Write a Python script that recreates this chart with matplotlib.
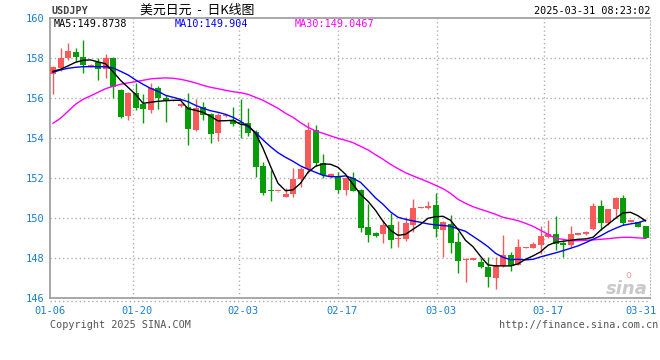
import matplotlib
matplotlib.use('Agg')
import matplotlib.pyplot as plt
import matplotlib.transforms as mtransforms

# daily USDJPY candles, 80 slots
open_ = [157.2, 157.5, 158.0, 158.33, 158.08, 157.62, 157.8, 157.45, 158.0, 156.42,
         155.13, 156.25, 155.7, 155.42, 156.53, 156.03, 155.88, 155.63, 155.55, 154.42,
         155.58, 155.22, 154.25, 155.1, 154.92, 154.83, 154.78, 154.33, 152.62, 151.42,
         151.35, 151.08, 151.2, 151.95, 152.45, 154.42, 152.75, 152.08, 152.12, 151.42,
         152.0, 151.42, 149.55, 149.25, 149.22, 149.67, 148.95, 148.97, 149.67, 150.52,
         150.52, 150.67, 149.42, 149.72, 148.83, 147.92, 147.93, 147.83, 147.58, 147.03,
         147.62, 148.17, 147.67, 148.53, 148.53, 148.67, 149.05, 149.22, 148.78, 148.67,
         149.18, 149.2, 149.45, 150.62, 149.78, 150.45, 151.0, 149.83, 149.83, 149.62]
close = [157.55, 158.03, 158.38, 158.08, 157.67, 157.67, 157.45, 158.0, 156.58, 155.08,
         156.28, 155.53, 155.47, 156.5, 156.0, 155.87, 155.9, 155.72, 154.47, 155.5,
         155.17, 154.22, 155.17, 155.13, 154.72, 154.75, 154.28, 152.55, 151.28, 151.35,
         151.37, 151.22, 151.97, 152.45, 154.42, 152.75, 152.17, 152.22, 151.42, 152.0,
         151.37, 149.53, 149.17, 149.13, 149.67, 148.92, 149.03, 149.75, 150.5, 150.55,
         150.62, 149.45, 149.83, 148.78, 147.88, 147.95, 147.95, 147.55, 147.08, 147.67,
         148.17, 147.62, 148.55, 148.55, 148.7, 149.12, 149.22, 148.72, 148.67, 149.22,
         149.2, 149.33, 150.62, 149.78, 150.45, 151.0, 149.78, 149.85, 149.58, 149.02]
high = [157.6, 158.5, 158.75, 158.5, 158.92, 157.7, 158.0, 158.22, 158.08, 156.45,
        156.3, 156.75, 156.22, 156.75, 156.63, 156.17, 155.92, 155.75, 156.28, 155.95,
        155.83, 155.25, 155.25, 155.15, 155.55, 155.95, 155.5, 154.42, 152.83, 152.42,
        151.38, 151.5, 152.5, 152.58, 154.8, 154.67, 153.22, 152.25, 152.33, 152.08,
        152.32, 151.45, 150.72, 149.33, 149.92, 150.25, 149.88, 150.05, 150.95, 150.56,
        150.88, 151.25, 149.85, 150.17, 149.33, 148.0, 147.97, 148.0, 148.05, 148.05,
        149.17, 148.33, 148.95, 148.57, 148.83, 149.62, 149.92, 150.12, 148.92, 149.62,
        149.22, 149.37, 150.75, 150.92, 150.45, 151.08, 151.17, 149.86, 149.84, 149.63]
low = [156.2, 157.35, 157.9, 157.8, 157.25, 157.6, 156.92, 157.0, 156.0, 155.03,
       154.92, 155.42, 154.75, 155.28, 155.47, 154.8, 155.85, 155.58, 153.67, 154.37,
       154.92, 153.75, 153.88, 155.08, 154.63, 154.0, 154.12, 152.08, 151.17, 150.88,
       151.33, 151.05, 151.08, 151.58, 152.25, 152.62, 152.0, 152.03, 151.28, 151.17,
       151.35, 149.33, 148.83, 149.05, 148.78, 148.5, 148.58, 148.88, 149.3, 150.5,
       150.45, 149.05, 148.05, 148.28, 147.25, 146.83, 147.9, 147.5, 146.55, 146.45,
       147.58, 147.38, 147.65, 148.5, 148.5, 148.2, 149.03, 148.42, 148.08, 148.58,
       149.16, 149.17, 149.42, 149.42, 149.67, 150.0, 149.67, 149.82, 149.55, 149.0]

# moving averages as drawn on the chart
ma5 = [157.35, 157.45, 157.62, 157.8, 157.9, 157.92, 157.82, 157.73, 157.33, 156.9,
       156.55, 156.2, 155.75, 155.8, 155.85, 155.88, 155.9, 155.9, 155.48, 155.4,
       155.3, 155.1, 154.87, 154.88, 154.9, 154.7, 154.65, 154.25, 153.5, 152.6,
       151.75, 151.38, 151.42, 151.75, 152.3, 152.6, 152.72, 152.7, 152.55, 152.2,
       151.7, 151.2, 150.85, 150.4, 149.85, 149.4, 149.15, 149.2, 149.45, 149.7,
       150.0, 150.08, 150.1, 149.9, 149.45, 148.9, 148.58, 148.1, 147.67, 147.62,
       147.62, 147.62, 147.72, 147.95, 148.12, 148.32, 148.65, 148.8, 148.85, 148.9,
       148.95, 148.97, 149.05, 149.4, 149.7, 150.0, 150.27, 150.3, 150.13, 149.87]
ma10 = [157.3, 157.42, 157.5, 157.55, 157.58, 157.58, 157.58, 157.58, 157.52, 157.35,
        157.17, 156.92, 156.7, 156.5, 156.35, 156.15, 156.05, 155.95, 155.83, 155.65,
        155.5, 155.38, 155.3, 155.2, 155.05, 154.85, 154.58, 154.3, 153.92, 153.58,
        153.28, 153.05, 152.85, 152.62, 152.45, 152.3, 152.15, 152.08, 152.08, 152.12,
        152.0, 151.8, 151.42, 151.02, 150.7, 150.32, 150.05, 149.95, 149.87, 149.8,
        149.72, 149.67, 149.64, 149.6, 149.47, 149.35, 149.1, 148.85, 148.58, 148.25,
        148.05, 147.93, 147.95, 147.92, 147.95, 148.07, 148.17, 148.27, 148.38, 148.5,
        148.62, 148.78, 148.95, 149.12, 149.33, 149.5, 149.65, 149.72, 149.78, 149.9]
ma30 = [154.75, 155.0, 155.35, 155.7, 155.95, 156.12, 156.3, 156.48, 156.6, 156.7,
        156.77, 156.83, 156.9, 156.97, 157.0, 157.02, 157.0, 156.95, 156.87, 156.77,
        156.65, 156.55, 156.48, 156.4, 156.33, 156.28, 156.2, 156.05, 155.9, 155.7,
        155.5, 155.25, 155.05, 154.78, 154.55, 154.37, 154.25, 154.12, 154.0, 153.9,
        153.78, 153.6, 153.42, 153.18, 152.95, 152.7, 152.48, 152.28, 152.12, 151.97,
        151.82, 151.65, 151.48, 151.25, 150.95, 150.75, 150.58, 150.45, 150.33, 150.2,
        150.05, 149.97, 149.88, 149.75, 149.6, 149.4, 149.2, 149.0, 148.95, 148.88,
        148.88, 148.9, 148.92, 148.95, 148.98, 149.02, 149.05, 149.05, 149.02, 149.0]

tick_labels = ['01-06', '01-20', '02-03', '02-17', '03-03', '03-17', '03-31']
y_ticks = [146, 148, 150, 152, 154, 156, 158, 160]

W, H = 660, 360
fig = plt.figure(figsize=(W / 100, H / 100), dpi=100)
fig.patch.set_facecolor('white')
ax = fig.add_axes([50 / W, 61.7 / H, 600 / W, 280 / H])
ax.set_xlim(-0.4, 79.6)
ax.set_ylim(146, 160)

mono = 'DejaVu Sans Mono'
blue_txt = '#1a7fd0'
red = '#f85a5a'
green = '#089c08'

# grid
grid_x = [10.7, 24.8, 38.0, 51.2, 65.4]
dot = (0, (1, 2))
for gy in y_ticks[1:-1]:
    ax.axhline(gy, color='#b0b0b0', lw=1, ls=dot, zorder=0)
for gx in grid_x:
    ax.axvline(gx, color='#b0b0b0', lw=1, ls=dot, zorder=0)

# candles
n = len(open_)
for i in range(n):
    o, c = open_[i], close[i]
    col = red if c >= o else green
    ax.vlines(i, low[i], high[i], color=col, lw=1, zorder=2)
    h = max(abs(c - o), 0.06)
    ax.bar(i, h, bottom=min(o, c), width=0.8, color=col, lw=0, zorder=3)

xs = list(range(n))
ax.plot(xs, ma30, color='#ff00ff', lw=1, zorder=4)
ax.plot(xs, ma10, color='#0000ff', lw=1, zorder=5)
ax.plot(xs, ma5, color='black', lw=1, zorder=6)

# axes frame
for s in ['left', 'bottom', 'top']:
    ax.spines[s].set_color('#999999')
    ax.spines[s].set_linewidth(1.2)
ax.spines['right'].set_color('#bbbbbb')
ax.spines['right'].set_linestyle(dot)
ax.plot([0, 1], [-0.008, -0.008], transform=ax.transAxes, color='#aaaaaa',
        lw=1, ls=dot, clip_on=False)

ax.set_xticks([])
ax.set_yticks(y_ticks)
ax.set_yticklabels([str(v) for v in y_ticks], family=mono, fontsize=7.5,
                   color=blue_txt)
ax.tick_params(axis='y', length=0, pad=4)

trans = mtransforms.blended_transform_factory(ax.transData, ax.transAxes)
xpos = [-0.4] + [g + 0.55 for g in grid_x] + [78.4]
for xp, lab in zip(xpos, tick_labels):
    ax.text(xp, -0.045, lab, transform=trans, ha='center', va='center',
            family=mono, fontsize=7.5, color=blue_txt)

# top texts
def ftext(x, y, s, **kw):
    fig.text(x / W, 1 - y / H, s, **kw)

ftext(51, 11, 'USDJPY', family=mono, fontsize=7.3, weight='bold',
      color='#444444', va='center')
ftext(140, 10, '美元日元  -  日K线图', family=['Noto Sans CJK SC', 'DejaVu Sans'],
      fontsize=9.3, color='black', va='center')
ftext(650, 11, '2025-03-31 08:23:02', family=mono, fontsize=7.3,
      color='black', va='center', ha='right')
ftext(54, 24, 'MA5:149.8738', family=mono, fontsize=7.3, color='black', va='center')
ftext(175, 24, 'MA10:149.904', family=mono, fontsize=7.3, color='#0000ff', va='center')
ftext(295, 24, 'MA30:149.0467', family=mono, fontsize=7.3, color='#ff00ff', va='center')

# footer
ftext(50, 325, 'Copyright 2025 SINA.COM', family=mono, fontsize=7.3,
      color='#555555', va='center')
ftext(658, 325, 'http://finance.sina.com.cn', family=mono, fontsize=7.3,
      color='#555555', va='center', ha='right')

# watermark
ftext(648, 289, 'sina', family='DejaVu Sans', fontsize=13, weight='bold',
      style='italic', color='#c4c4c4', va='center', ha='right', alpha=0.9)
ftext(628, 275, 'o', family='DejaVu Sans', fontsize=7, color='#f0a0a0',
      va='center', ha='center')

fig.savefig('out.png', dpi=100, facecolor='white')
